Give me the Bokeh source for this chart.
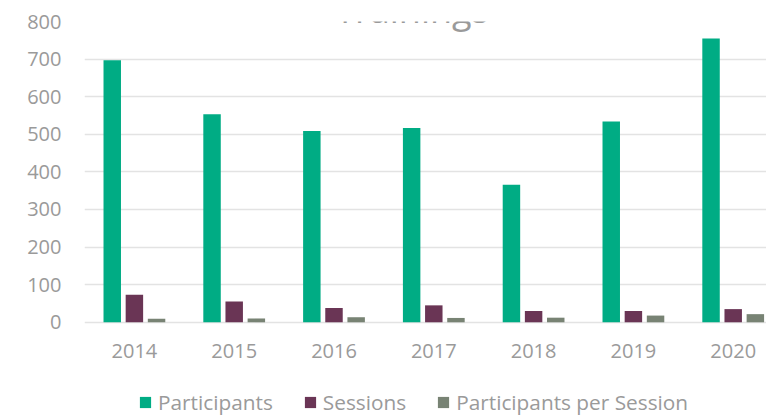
from bokeh.plotting import figure
from bokeh.models import ColumnDataSource, Range1d, FixedTicker, Legend, LegendItem, Label
from bokeh.transform import dodge
from bokeh.embed import file_html
from bokeh.resources import INLINE

years = ["2014", "2015", "2016", "2017", "2018", "2019", "2020"]
participants = [697, 553, 509, 517, 366, 534, 755]
sessions = [73, 55, 38, 45, 30, 30, 35]
participants_per_session = [9.5, 10.1, 13.4, 11.5, 12.2, 17.8, 21.6]
y_ticks = [0, 100, 200, 300, 400, 500, 600, 700, 800]
title_text = "Trainings"
series_names = ["Participants", "Sessions", "Participants per Session"]
colors = ["#00AC84", "#6A3555", "#788374"]

FONT = "Open Sans"
TXT = "#9a9a9a"

W, H = 766, 416
TOP, ZERO_Y, LEFT = 20.7, 321.7, 84
px_per_unit = (ZERO_Y - TOP) / 800.0
y_min = -(H - ZERO_Y) / px_per_unit

idx = list(range(len(years)))
src = ColumnDataSource(dict(x=idx, p=participants, s=sessions, pps=participants_per_session))

p = figure(width=W, height=H, output_backend="svg", toolbar_location=None,
           x_range=Range1d(-0.5, -0.5 + (W - LEFT) / 99.8), y_range=Range1d(y_min, 800),
           min_border_left=LEFT, min_border_right=0, min_border_top=21, min_border_bottom=0)
p.outline_line_color = None
p.background_fill_color = "white"
p.border_fill_color = "white"

w = 0.175
off = 0.222
r1 = p.vbar(x=dodge("x", -off), top="p", bottom=0, width=w, source=src, fill_color=colors[0], line_color=None)
r2 = p.vbar(x=dodge("x", 0.0), top="s", bottom=0, width=w, source=src, fill_color=colors[1], line_color=None)
r3 = p.vbar(x=dodge("x", off), top="pps", bottom=0, width=w, source=src, fill_color=colors[2], line_color=None)

p.xgrid.grid_line_color = None
p.ygrid.grid_line_color = "#e3e3e3"
p.ygrid.grid_line_width = 1.5
p.ygrid.ticker = FixedTicker(ticks=y_ticks)

p.yaxis.ticker = FixedTicker(ticks=y_ticks)
p.yaxis.axis_line_color = None
p.yaxis.major_tick_line_color = None
p.yaxis.minor_tick_line_color = None
p.yaxis.major_tick_in = 0
p.yaxis.major_tick_out = 0
p.yaxis.major_label_standoff = 23
p.yaxis.major_label_text_font = FONT
p.yaxis.major_label_text_font_size = "20px"
p.yaxis.major_label_text_color = TXT

p.xaxis.fixed_location = 0
p.xaxis.ticker = FixedTicker(ticks=idx)
p.xaxis.major_label_overrides = {i: y for i, y in zip(idx, years)}
p.xaxis.axis_line_color = None
p.xaxis.major_tick_line_color = None
p.xaxis.minor_tick_line_color = None
p.xaxis.major_tick_in = 0
p.xaxis.major_tick_out = 0
p.xaxis.major_label_standoff = 22
p.xaxis.major_label_text_font = FONT
p.xaxis.major_label_text_font_size = "20px"
p.xaxis.major_label_text_color = TXT

legend = Legend(items=[LegendItem(label=series_names[0], renderers=[r1]),
                       LegendItem(label=series_names[1], renderers=[r2]),
                       LegendItem(label=series_names[2], renderers=[r3])],
                location=(54, 0), orientation="horizontal",
                glyph_width=14, glyph_height=14, label_standoff=6, spacing=30,
                padding=0, margin=0, border_line_color=None, background_fill_alpha=0,
                label_text_font=FONT, label_text_font_size="20.8px", label_text_color=TXT)
p.add_layout(legend, "center")

title = Label(x=327.5, y=H - 9, x_units="screen", y_units="screen", text=title_text,
              text_align="center", text_baseline="alphabetic",
              text_font=FONT, text_font_size="36px", text_color=TXT)
p.add_layout(title)

open("out.html", "w").write(file_html(p, INLINE))
